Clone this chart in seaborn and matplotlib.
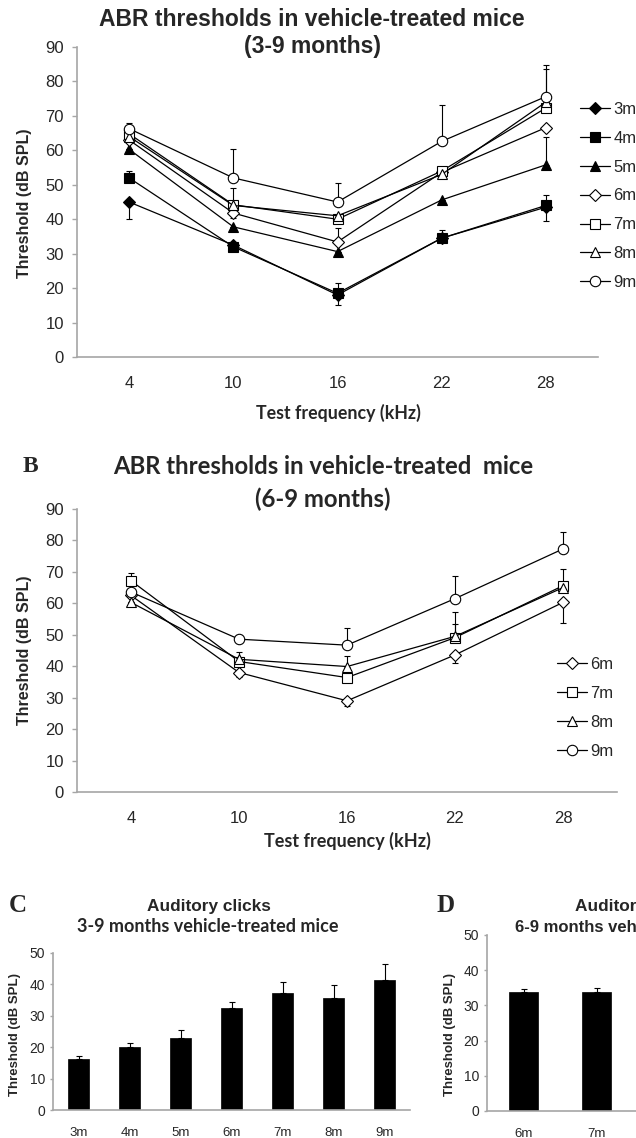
import numpy as np
import matplotlib
matplotlib.use("Agg")
import matplotlib.pyplot as plt
import seaborn as sns

# ---- data ----
freqs = ["4", "10", "16", "22", "28"]

# panel A: 3-9 months
a_3m = [45, 32.5, 18, 34.5, 43.5]
a_4m = [52, 32, 18.5, 34.5, 44]
a_5m = [60.3, 37.8, 30.6, 45.6, 55.8]
a_6m = [63, 41.8, 33.4, 53.6, 66.6]
a_7m = [64.8, 44.2, 40, 54, 72.3]
a_8m = [64, 44, 41, 53, 74]
a_9m = [66.3, 52, 45, 62.6, 75.6]
a_err_lo = {"3m": [5, 0.5, 3, 0, 4], "4m": [0, 0, 0, 0, 0], "5m": [0, 0, 0, 0, 0],
            "6m": [0, 1.5, 0, 0, 0], "7m": [0, 0, 0, 2, 0], "8m": [0, 0, 0, 0, 0],
            "9m": [0, 0, 0, 0, 0]}
a_err_hi = {"3m": [0, 0, 0, 0, 0], "4m": [2, 0.5, 3, 2.3, 3], "5m": [0, 0, 0, 0, 8],
            "6m": [0, 0, 4, 0, 0], "7m": [0, 5, 0, 0, 0], "8m": [0, 0, 0, 0, 9.5],
            "9m": [1.5, 8.5, 5.5, 10.5, 9.3]}

# panel B: 6-9 months
b_6m = [62.5, 38, 29, 43.6, 60.3]
b_7m = [67.2, 41.5, 36.4, 49.1, 65.6]
b_8m = [60.3, 42.2, 39.9, 49.5, 65]
b_9m = [63.6, 48.6, 46.7, 61.5, 77.3]
b_err_lo = {"6m": [0, 1.5, 1.6, 2.6, 6.4], "7m": [0, 0, 0, 0, 0],
            "8m": [0, 0, 0, 0, 0], "9m": [0, 0, 0, 0, 0]}
b_err_hi = {"6m": [0, 0, 0, 0, 0], "7m": [2.6, 3, 0, 8.3, 5.3],
            "8m": [0, 0, 3.5, 4, 0], "9m": [0, 1.4, 5.4, 7.1, 5.3]}

# panel C / D: clicks
c_months = ["3m", "4m", "5m", "6m", "7m", "8m", "9m"]
c_vals = [16.2, 20, 23, 32.5, 37.4, 35.7, 41.3]
c_err = [0.9, 1.3, 2.4, 2.0, 3.4, 4.0, 5.2]
d_months = ["6m", "7m"]
d_vals = [33.9, 33.7]
d_err = [0.9, 1.3]

# marker styles: (marker, filled, size)
styles = {"3m": ("D", True, 6), "4m": ("s", True, 7), "5m": ("^", True, 7.5),
          "6m": ("D", False, 6), "7m": ("s", False, 7), "8m": ("^", False, 7.5),
          "9m": ("o", False, 7.5)}

sns.set_style("white")
plt.rcParams["font.family"] = ["Liberation Sans", "DejaVu Sans"]

W, H = 636, 1138
fig = plt.figure(figsize=(W / 100, H / 100), dpi=100)


def box(l, t, r, b):
    return [l / W, 1 - b / H, (r - l) / W, (b - t) / H]


def ftext(x, y, s, **kw):
    fig.text(x / W, 1 - y / H, s, ha="center", va="center", **kw)


GRAY = "#a6a6a6"


def style_axes(ax, ysize, ypad, tlen):
    sns.despine(ax=ax)
    for sp in ("left", "bottom"):
        ax.spines[sp].set_color(GRAY)
        ax.spines[sp].set_linewidth(1.2)
    ax.tick_params(axis="y", length=tlen, width=1.0, color=GRAY, labelsize=ysize,
                   pad=ypad, left=True)
    ax.tick_params(axis="x", length=0)
    ax.grid(False)


def line_panel(ax, series, err_lo, err_hi):
    for name, vals in series.items():
        mk, filled, ms = styles[name]
        sns.lineplot(x=freqs, y=vals, ax=ax, sort=False, color="black", lw=0.9,
                     marker=mk, markersize=ms, markeredgecolor="black",
                     markerfacecolor="black" if filled else "white",
                     markeredgewidth=0.8, label=name, zorder=3)
        ax.errorbar(freqs, vals, yerr=[err_lo[name], err_hi[name]], fmt="none",
                    ecolor="black", elinewidth=0.8, capsize=2.5, capthick=0.8,
                    zorder=2)
    ax.set_xlim(-0.5, 4.5)
    ax.set_ylim(0, 90)
    ax.set_yticks(range(0, 91, 10))
    ax.set_xlabel("")
    ax.set_ylabel("")


# ---- panel A ----
axA = fig.add_axes(box(77, 47, 598, 357))
line_panel(axA, {"3m": a_3m, "4m": a_4m, "5m": a_5m, "6m": a_6m, "7m": a_7m,
                 "8m": a_8m, "9m": a_9m}, a_err_lo, a_err_hi)
style_axes(axA, 12, 6, 3.5)
axA.tick_params(axis="x", labelsize=12, pad=14)
axA.legend(loc="center left", bbox_to_anchor=(580 / W, 1 - 196 / H),
           bbox_transform=fig.transFigure, frameon=False, fontsize=12,
           handlelength=1.8, handletextpad=0.2, labelspacing=0.83,
           borderpad=0, borderaxespad=0)
ftext(312, 19, "ABR thresholds in vehicle-treated mice", fontsize=16.5,
      fontweight="bold")
ftext(312, 47, "(3-9 months)", fontsize=16.5, fontweight="bold")
ftext(25, 203, "Threshold (dB SPL)", fontsize=11.5, fontweight="bold",
      rotation=90)
ftext(338, 413, "Test frequency (kHz)", fontsize=12.8, fontweight="bold",
      family="Lato")

# ---- panel B ----
axB = fig.add_axes(box(77, 509, 617, 792))
line_panel(axB, {"6m": b_6m, "7m": b_7m, "8m": b_8m, "9m": b_9m},
           b_err_lo, b_err_hi)
style_axes(axB, 12, 6, 3.5)
axB.tick_params(axis="x", labelsize=12, pad=14)
axB.legend(loc="center left", bbox_to_anchor=(557 / W, 1 - 708 / H),
           bbox_transform=fig.transFigure, frameon=False, fontsize=12,
           handlelength=1.8, handletextpad=0.2, labelspacing=0.83,
           borderpad=0, borderaxespad=0)
ftext(30, 466, "B", fontsize=17, fontweight="bold", family="Liberation Serif")
ftext(323, 467, "ABR thresholds in vehicle-treated  mice", fontsize=17.2,
      fontweight="bold", family="Lato")
ftext(323, 499, "(6-9 months)", fontsize=17.2, fontweight="bold", family="Lato")
ftext(25, 650, "Threshold (dB SPL)", fontsize=11.5, fontweight="bold",
      rotation=90)
ftext(347, 841, "Test frequency (kHz)", fontsize=13, fontweight="bold",
      family="Lato")


# ---- panels C and D ----
def bar_panel(ax, cats, vals, errs, ncat):
    sns.barplot(x=cats, y=vals, ax=ax, color="black", saturation=1, width=0.4,
                edgecolor="black", linewidth=0.5)
    ax.errorbar(cats, vals, yerr=[np.zeros(len(errs)), errs], fmt="none",
                ecolor="black", elinewidth=0.8, capsize=2.5, capthick=0.8)
    ax.set_xlim(-0.5, ncat - 0.5)
    ax.set_ylim(0, 50)
    ax.set_yticks(range(0, 51, 10))
    style_axes(ax, 10, 3, 2.5)
    ax.tick_params(axis="x", labelsize=9.5, pad=12)


axC = fig.add_axes(box(53, 953, 410, 1110))
bar_panel(axC, c_months, c_vals, c_err, 7)
ftext(18, 906, "C", fontsize=18, fontweight="bold", family="Liberation Serif")
ftext(209, 906, "Auditory clicks", fontsize=12.4, fontweight="bold")
ftext(208, 927, "3-9 months vehicle-treated mice", fontsize=13,
      fontweight="bold", family="Lato")
ftext(15, 1035, "Threshold (dB SPL)", fontsize=9.5, fontweight="bold",
      rotation=90)

# panel D is cropped at the right edge of the figure, as in the source
axD = fig.add_axes(box(487, 935, 779, 1111))
bar_panel(axD, d_months, d_vals, d_err, 4)
ftext(446, 906, "D", fontsize=18, fontweight="bold", family="Liberation Serif")
ftext(637, 906, "Auditory clicks", fontsize=12.4, fontweight="bold")
ftext(641, 927, "6-9 months vehicle-treated mice", fontsize=12,
      fontweight="bold")
ftext(450, 1035, "Threshold (dB SPL)", fontsize=9.5, fontweight="bold",
      rotation=90)

fig.savefig("out.png", dpi=100, facecolor="white")
